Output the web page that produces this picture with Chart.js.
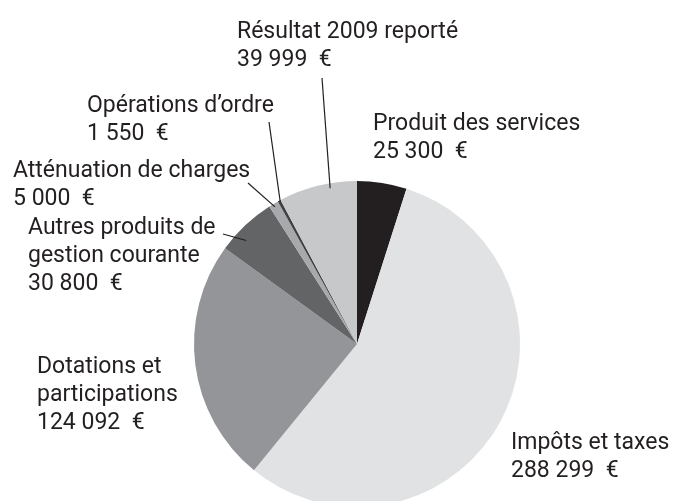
<!DOCTYPE html>
<html lang="fr">
<head>
    <meta charset="UTF-8">
    <title>Recettes de fonctionnement</title>
    <script src="https://cdn.jsdelivr.net/npm/chart.js"></script>
    <style>
        body {
            margin: 0;
            background-color: #ffffff;
            overflow: hidden;
        }
        #chart {
            display: block;
        }
    </style>
</head>
<body>
    <canvas id="chart" width="673" height="501"></canvas>

    <script>
        // data
        const categories = [
            'Produit des services',
            'Impôts et taxes',
            'Dotations et participations',
            'Autres produits de gestion courante',
            'Atténuation de charges',
            'Opérations d’ordre',
            'Résultat 2009 reporté'
        ];
        const values = [25300, 288299, 124092, 30800, 5000, 1550, 39999];
        const labelLines = [
            ['Produit des services'],
            ['Impôts et taxes'],
            ['Dotations et', 'participations'],
            ['Autres produits de', 'gestion courante'],
            ['Atténuation de charges'],
            ['Opérations d’ordre'],
            ['Résultat 2009 reporté']
        ];
        const colors = ['#231f20', '#e1e2e3', '#939598', '#636466', '#a7a9ac', '#414042', '#c7c8ca'];

        // where each label sits (x, first baseline) and optional leader line
        const labelLayout = [
            { x: 373, y: 130 },
            { x: 511, y: 449 },
            { x: 37, y: 373 },
            { x: 28, y: 234, lead: { x: 223, y: 234, t: 0.33, r: 0.93 } },
            { x: 13, y: 177, lead: { x: 248, y: 183, t: 0.47, r: 0.98 } },
            { x: 87, y: 112, lead: { x: 269, y: 122, t: 0.6, r: 0.99 } },
            { x: 237, y: 38, lead: { x: 322, y: 78, t: 0.65, r: 0.97 } }
        ];
        const lineHeight = 28;
        const textColor = '#231f20';

        function euro(v) {
            return String(v).replace(/\B(?=(\d{3})+(?!\d))/g, ' ') + '  €';
        }

        const labelPlugin = {
            id: 'sliceLabels',
            afterDatasetsDraw(chart) {
                const ctx = chart.ctx;
                const arcs = chart.getDatasetMeta(0).data;
                ctx.save();
                ctx.fillStyle = textColor;
                ctx.strokeStyle = textColor;
                ctx.font = '23px Roboto';
                ctx.textBaseline = 'alphabetic';
                ctx.textAlign = 'left';
                labelLayout.forEach((pos, i) => {
                    const lines = labelLines[i].concat([euro(values[i])]);
                    lines.forEach((txt, k) => {
                        ctx.fillText(txt, pos.x, pos.y + k * lineHeight);
                    });
                    if (pos.lead) {
                        const arc = arcs[i];
                        const a = arc.startAngle + pos.lead.t * (arc.endAngle - arc.startAngle);
                        const r = arc.outerRadius * pos.lead.r;
                        ctx.lineWidth = 1.2;
                        ctx.beginPath();
                        ctx.moveTo(pos.lead.x, pos.lead.y);
                        ctx.lineTo(arc.x + Math.cos(a) * r, arc.y + Math.sin(a) * r);
                        ctx.stroke();
                    }
                });
                ctx.restore();
            }
        };

        new Chart(document.getElementById('chart'), {
            type: 'pie',
            data: {
                labels: categories,
                datasets: [{
                    data: values,
                    backgroundColor: colors,
                    borderWidth: 0,
                    radius: 163,
                    clip: false
                }]
            },
            options: {
                responsive: false,
                animation: false,
                devicePixelRatio: 1,
                layout: {
                    padding: { left: 41, top: 187, right: 0, bottom: 0 }
                },
                plugins: {
                    legend: { display: false },
                    tooltip: { enabled: false }
                }
            },
            plugins: [labelPlugin]
        });
    </script>
</body>
</html>
